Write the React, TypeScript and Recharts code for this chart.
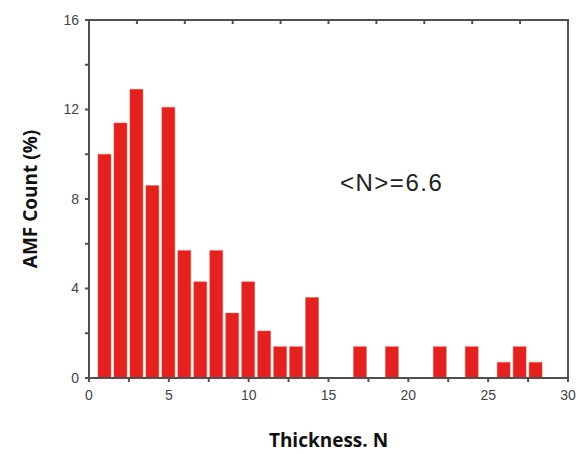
import { BarChart, Bar, XAxis, YAxis, Label } from 'recharts';

// thickness N (layers) and share of flakes in %
const thickness = [1, 2, 3, 4, 5, 6, 7, 8, 9, 10, 11, 12, 13, 14, 15, 16, 17, 18, 19, 20, 21, 22, 23, 24, 25, 26, 27, 28];
const countPct = [10.0, 11.4, 12.9, 8.6, 12.1, 5.7, 4.3, 5.7, 2.9, 4.3, 2.1, 1.4, 1.4, 3.6, 0, 0, 1.4, 0, 1.4, 0, 0, 1.4, 0, 1.4, 0, 0.7, 1.4, 0.7];

const xTicks = [0, 2.5, 5, 7.5, 10, 12.5, 15, 17.5, 20, 22.5, 25, 27.5, 30];
const yTicks = [0, 2, 4, 6, 8, 10, 12, 14, 16];
const meanLabel = '<N>=6.6';

const data = thickness.map((n, i) => ({ n, pct: countPct[i] }));

const axisColor = '#505050';
const tickStyle = { fill: '#444', fontSize: 14, fontFamily: 'Liberation Sans, Arial, sans-serif' };
const titleStyle = { fill: '#111', fontSize: 19, fontWeight: 700, fontFamily: 'Open Sans, sans-serif' };

const xFmt = (v: number) => (v % 5 === 0 ? String(v) : '');
const yFmt = (v: number) => (v % 4 === 0 ? String(v) : '');
const noTick = () => <g />;

export default function App() {
  return (
    <div style={{ position: 'absolute', left: 0, top: 0, width: 587, height: 454 }}>
      <BarChart width={587} height={454} data={data} margin={{ top: 20, right: 19, bottom: 0, left: 0 }}>
        <XAxis
          dataKey="n"
          type="number"
          domain={[0, 30]}
          ticks={xTicks}
          tickFormatter={xFmt}
          interval={0}
          height={76}
          stroke={axisColor}
          strokeWidth={2}
          tickSize={4}
          tick={tickStyle}
          tickMargin={8}
        >
          <Label value="Thickness. N" position="center" dy={24} style={titleStyle} />
        </XAxis>
        <XAxis
          xAxisId="top"
          dataKey="n"
          orientation="top"
          type="number"
          domain={[0, 30]}
          tickCount={13}
          mirror
          stroke={axisColor}
          strokeWidth={2}
          tickSize={4}
          tick={noTick}
        />
        <YAxis
          domain={[0, 16]}
          ticks={yTicks}
          tickFormatter={yFmt}
          interval={0}
          width={89}
          stroke={axisColor}
          strokeWidth={2}
          tickSize={4}
          tick={tickStyle}
          tickMargin={6}
        >
          <Label value="AMF Count (%)" angle={-90} position="center" dx={-14} style={titleStyle} />
        </YAxis>
        <YAxis
          yAxisId="right"
          orientation="right"
          domain={[0, 16]}
          tickCount={9}
          mirror
          stroke={axisColor}
          strokeWidth={2}
          tickSize={4}
          tick={noTick}
        />
        <Bar dataKey="pct" fill="#e3211f" stroke="#f05a55" strokeWidth={0.5} barSize={13} isAnimationActive={false} />
      </BarChart>
      {/* frame on the top and right sides of the plot */}
      <div
        style={{
          position: 'absolute',
          left: 88,
          top: 19,
          width: 481,
          height: 360,
          boxSizing: 'border-box',
          borderTop: `2px solid ${axisColor}`,
          borderRight: `2px solid ${axisColor}`,
          pointerEvents: 'none',
        }}
      />
      <div
        style={{
          position: 'absolute',
          left: 340,
          top: 168,
          fontSize: 24,
          letterSpacing: 1.5,
          color: '#222',
          fontFamily: 'Liberation Sans, Arial, sans-serif',
          lineHeight: '30px',
        }}
      >
        {meanLabel}
      </div>
    </div>
  );
}
